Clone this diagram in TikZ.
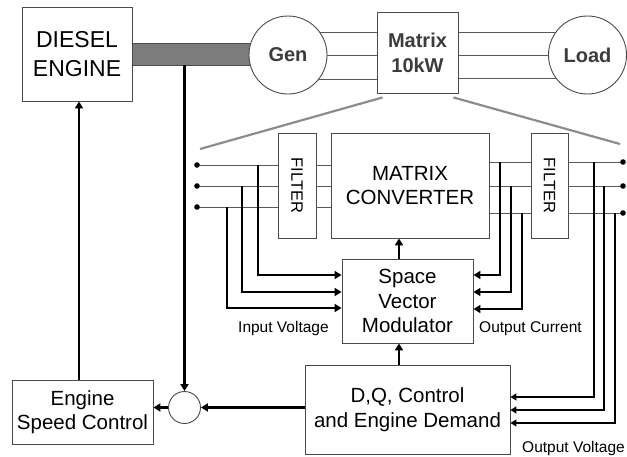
\documentclass[tikz,border=0pt]{standalone}
\usepackage{fontspec}
\setmainfont{Liberation Sans}
\usetikzlibrary{arrows.meta,backgrounds,calc}

\definecolor{boxgray}{HTML}{4A4A4A}
\definecolor{phasegray}{HTML}{5A5A5A}
\definecolor{zoomgray}{HTML}{8C8C8C}
\definecolor{shaftgray}{HTML}{7C7C7C}
\definecolor{labelgray}{HTML}{3C3C3C}

\newcommand\fsBig{\fontsize{20.5}{24.5}\selectfont}
\newcommand\fsDiesel{\fontsize{23}{28.5}\selectfont}
\newcommand\fsBold{\fontsize{20}{25}\selectfont\bfseries}
\newcommand\fsFilter{\fontsize{16.5}{20}\selectfont}
\newcommand\fsSmall{\fontsize{15.5}{18}\selectfont}

\tikzset{
  box/.style={draw=boxgray, line width=0.9pt, fill=white, inner sep=0pt,
              align=center, font=\fsBig},
  machine/.style={circle, draw=boxgray, line width=0.9pt, fill=white,
                  inner sep=0pt, font=\fsBold, text=labelgray},
  phase/.style={draw=phasegray, line width=0.8pt},
  zoomline/.style={draw=zoomgray, line width=2.2pt},
  fb/.style={line width=2.8pt, -{Triangle[length=7pt,width=8pt]}},
  ov/.style={line width=1.3pt, -{Triangle[length=6pt,width=7pt]}},
  lbl/.style={font=\fsSmall, inner sep=0pt},
  dot/.style={fill=black}
}

\begin{document}
\begin{tikzpicture}[x=1pt,y=-1pt]
\useasboundingbox (0,0) rectangle (627,456);

% ---- power train along the top ----
\node[box, font=\fsDiesel, minimum width=110pt, minimum height=94pt] (diesel) at (77,54) {DIESEL\\ENGINE};
\filldraw[fill=shaftgray, draw=boxgray, line width=0.8pt]
  ($(diesel.east)+(0,-11)$) rectangle (254,65);
\node[machine, minimum size=78pt] (gen) at (288,55) {Gen};
\node[box, font=\fsBold, text=labelgray, minimum width=81pt, minimum height=81pt] (mat) at (417.5,52.5) {Matrix\\10kW};
\node[machine, minimum size=78pt] (load) at (587.5,55) {Load};

\begin{scope}[on background layer]
  \foreach \yy in {32,55,79}
    \draw[phase] (gen.center |- 0,\yy) -- (mat.west |- 0,\yy);
  \foreach \yy in {32,55,78}
    \draw[phase] (mat.east |- 0,\yy) -- (load.center |- 0,\yy);
\end{scope}

% expansion lines from the converter unit
\coordinate (zl) at (200,149);
\coordinate (zr) at (620,144);
\draw[zoomline] ($(mat.south west)+(6,4)$) -- (zl);
\draw[zoomline] ($(mat.south east)+(-5,4)$) -- (zr);

% ---- converter detail ----
\node[box, minimum width=38pt, minimum height=105pt] (f1) at (297,185.5) {};
\node[font=\fsFilter, rotate=-90, inner sep=0pt] (f1txt) at (f1) {FILTER};
\node[box, minimum width=158pt, minimum height=105pt] (conv) at (410,185.5) {MATRIX\\CONVERTER};
\node[box, minimum width=37pt, minimum height=105pt] (f2) at (549.5,185.5) {};
\node[font=\fsFilter, rotate=-90, inner sep=0pt] (f2txt) at (f2) {FILTER};

\node[box, minimum width=131pt, minimum height=84pt] (svm) at (407.5,301) {Space\\Vector\\Modulator};
\node[box, minimum width=205pt, minimum height=89pt] (dq) at (407.5,409.5) {D,Q, Control\\and Engine Demand};
\node[box, minimum width=141pt, minimum height=64pt] (esc) at (82.5,412) {Engine\\Speed Control};
\node[circle, draw=boxgray, line width=0.9pt, fill=white, minimum size=32pt, inner sep=0pt] (sum) at (184.5,407.5) {};

% input phases
\coordinate (in1) at (197,165);
\coordinate (in2) at (197,186);
\coordinate (in3) at (197,207);
\foreach \p in {in1,in2,in3} {
  \draw[phase] (\p) -- (f1.west |- \p);
  \draw[phase] (f1.east |- \p) -- (conv.west |- \p);
  \fill[dot] (\p) circle (2.8pt);
}

% output phases
\coordinate (out1) at (623,162);
\coordinate (out2) at (623,186);
\coordinate (out3) at (623,213);
\foreach \p in {out1,out2,out3} {
  \draw[phase] (conv.east |- \p) -- (f2.west |- \p);
  \draw[phase] (f2.east |- \p) -- (\p);
  \fill[dot] (\p) circle (2.8pt);
}

% input voltage sensing
\draw[fb] (258,165) |- (svm.west |- 0,275);
\draw[fb] (242,186) |- (svm.west |- 0,292);
\draw[fb] (227,207) |- (svm.west |- 0,308);

% output current sensing
\draw[fb] (500,162) |- (svm.east |- 0,275);
\draw[fb] (511,186) |- (svm.east |- 0,292);
\draw[fb] (522,213) |- (svm.east |- 0,309);

% output voltage sensing
\draw[ov] (594,162) |- (dq.east |- 0,397);
\draw[ov] (604,186) |- (dq.east |- 0,410);
\draw[ov] (615,213) |- (dq.east |- 0,423);

% control flow
\draw[fb] (svm.north -| 399,0) -- (conv.south -| 399,0);
\draw[fb] (dq.north -| 399,0) -- (svm.south -| 399,0);
\draw[fb] (dq.west |- sum) -- (sum.east);
\draw[fb] (sum.west) -- (esc.east |- sum);
\draw[fb] (esc.north -| 79,0) -- (diesel.south -| 79,0);
\coordinate (tap) at (sum.north |- 0,65);
\draw[fb] (tap) -- (sum.north);

% signal labels
\node[lbl, anchor=base west] (inv) at (238,332) {Input Voltage};
\node[lbl, anchor=base west] (outc) at (479,332) {Output Current};
\node[lbl, anchor=base west] (outv) at (522,452) {Output Voltage};
\end{tikzpicture}
\end{document}
